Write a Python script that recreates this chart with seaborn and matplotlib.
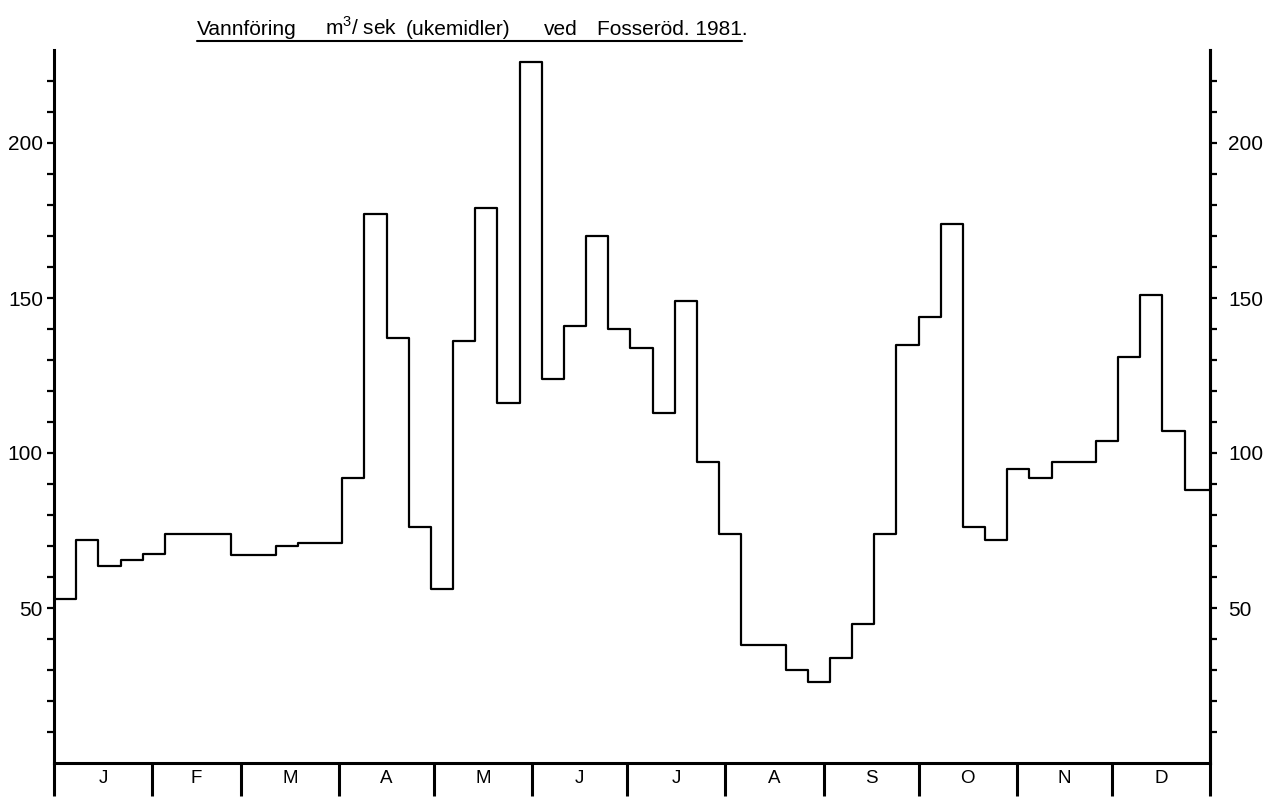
import numpy as np
import pandas as pd
import matplotlib
matplotlib.use("Agg")
import matplotlib.pyplot as plt
import seaborn as sns
from matplotlib.lines import Line2D

# ---- data ----
months = ["J", "F", "M", "A", "M", "J", "J", "A", "S", "O", "N", "D"]
month_days = [31, 28, 31, 30, 31, 30, 31, 31, 30, 31, 30, 31]
weekly_flow = [53, 72, 63.5, 65.5, 67.5, 74, 74, 74, 67, 67, 70, 71, 71,
               92, 177, 137, 76, 56, 136, 179, 116, 226, 124, 141, 170, 140,
               134, 113, 149, 97, 74, 38, 38, 30, 26, 34, 45, 74, 135, 144,
               174, 76, 72, 95, 92, 97, 97, 104, 131, 151, 107, 88]
y_labels = [50, 100, 150, 200]
title_parts = ["Vannföring", "m$^3$/ sek", "(ukemidler)", "ved", "Fosseröd. 1981."]

sns.set_style("ticks")
plt.rcParams['font.family'] = ['Liberation Sans', 'DejaVu Sans']
plt.rcParams['text.color'] = 'black'
plt.rcParams['xtick.color'] = 'black'
plt.rcParams['ytick.color'] = 'black'
plt.rcParams['axes.edgecolor'] = 'black'
plt.rcParams['mathtext.fontset'] = 'custom'
plt.rcParams['mathtext.rm'] = 'Liberation Sans'

W, H = 1275, 801
fig = plt.figure(figsize=(W / 100, H / 100), dpi=100)
ax = fig.add_axes([54 / W, 1 - 763 / H, (1210 - 54) / W, (763 - 50) / H])

days_in_year = sum(month_days)
week_start = [7 * i for i in range(len(weekly_flow))]
df = pd.DataFrame({"day": week_start + [days_in_year],
                   "flow": weekly_flow + [weekly_flow[-1]]})
sns.lineplot(data=df, x="day", y="flow", drawstyle="steps-post",
             estimator=None, color="black", linewidth=1.6, ax=ax)

ax.set_xlim(0, days_in_year)
ax.set_ylim(0, 230)
ax.set_xlabel("")
ax.set_ylabel("")

month_edges = np.cumsum([0] + month_days)
month_centers = (month_edges[:-1] + month_edges[1:]) / 2
ax.set_xticks(month_edges)
ax.set_xticklabels([""] * len(month_edges))
ax.set_xticks(month_centers, minor=True)
ax.set_xticklabels(months, minor=True)
ax.tick_params(axis="x", which="major", length=24, width=2.2, direction="out")
ax.tick_params(axis="x", which="minor", length=0, pad=5, labelsize=13.5)

ax.set_yticks(y_labels)
ax.set_yticks(np.arange(10, 230, 10), minor=True)
ax.tick_params(axis="y", which="both", length=5, width=1.6, direction="out",
               labelsize=15, pad=3)

for side in ["left", "bottom", "right"]:
    ax.spines[side].set_linewidth(2.2)
ax.spines["top"].set_visible(False)

ax2 = ax.twinx()
ax2.set_ylim(0, 230)
ax2.set_yticks(y_labels)
ax2.set_yticks(np.arange(10, 230, 10), minor=True)
ax2.tick_params(axis="y", which="both", length=5, width=1.6, direction="out",
                labelsize=15, pad=8)
ax2.spines["right"].set_linewidth(2.2)
ax2.spines["top"].set_visible(False)
ax2.spines["left"].set_visible(False)
ax2.spines["bottom"].set_visible(False)

title_x = [197, 325, 406, 544, 597]
for txt, px in zip(title_parts, title_x):
    fig.text(px / W, 1 - 35 / H, txt, ha="left", va="baseline", fontsize=15)
fig.add_artist(Line2D([197 / W, 742 / W], [1 - 41 / H, 1 - 41 / H],
                      transform=fig.transFigure, color="black", linewidth=1.5))

fig.savefig("out.png", dpi=100, facecolor="white")
